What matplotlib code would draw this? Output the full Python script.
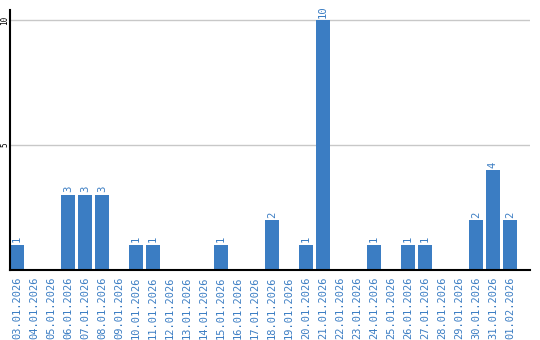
import matplotlib.pyplot as plt

dates = ["03.01.2026", "04.01.2026", "05.01.2026", "06.01.2026", "07.01.2026",
         "08.01.2026", "09.01.2026", "10.01.2026", "11.01.2026", "12.01.2026",
         "13.01.2026", "14.01.2026", "15.01.2026", "16.01.2026", "17.01.2026",
         "18.01.2026", "19.01.2026", "20.01.2026", "21.01.2026", "22.01.2026",
         "23.01.2026", "24.01.2026", "25.01.2026", "26.01.2026", "27.01.2026",
         "28.01.2026", "29.01.2026", "30.01.2026", "31.01.2026", "01.02.2026"]
counts = [1, 0, 0, 3, 3, 3, 0, 1, 1, 0,
          0, 0, 1, 0, 0, 2, 0, 1, 10, 0,
          0, 1, 0, 1, 1, 0, 0, 2, 4, 2]
y_ticks = [5, 10]

blue = "#3b7dc3"

fig = plt.figure(figsize=(5.4, 3.4), dpi=100)
ax = fig.add_axes([10 / 540, 70 / 340, 520 / 540, 260 / 340])

x = list(range(len(dates)))
ax.bar(x, counts, width=0.82, color=blue, zorder=2)

# value labels above each non-empty bar
for i, v in enumerate(counts):
    if v > 0:
        ax.text(i, v + 0.1, str(v), rotation=90, ha="center", va="bottom",
                color=blue, fontsize=7.6, family="DejaVu Sans Mono")

ax.set_xlim(-0.41, 30.18)
ax.set_ylim(0, 10.4)
ax.set_xticks(x)
ax.set_xticklabels(dates, rotation=90, color=blue, fontsize=7.5,
                   family="DejaVu Sans Mono")
ax.set_yticks(y_ticks)
ax.set_yticklabels([str(t) for t in y_ticks], rotation=90, fontsize=5.5,
                   family="DejaVu Sans Mono", va="center")
ax.tick_params(axis="both", length=0)
ax.tick_params(axis="y", pad=0.5)
ax.tick_params(axis="x", pad=5)
ax.grid(axis="y", color="#c8c8c8", linewidth=1, zorder=0)
for s in ["top", "right"]:
    ax.spines[s].set_visible(False)
ax.spines["left"].set_linewidth(1.5)
ax.spines["bottom"].set_linewidth(1.5)

fig.savefig("out.png", dpi=100)
